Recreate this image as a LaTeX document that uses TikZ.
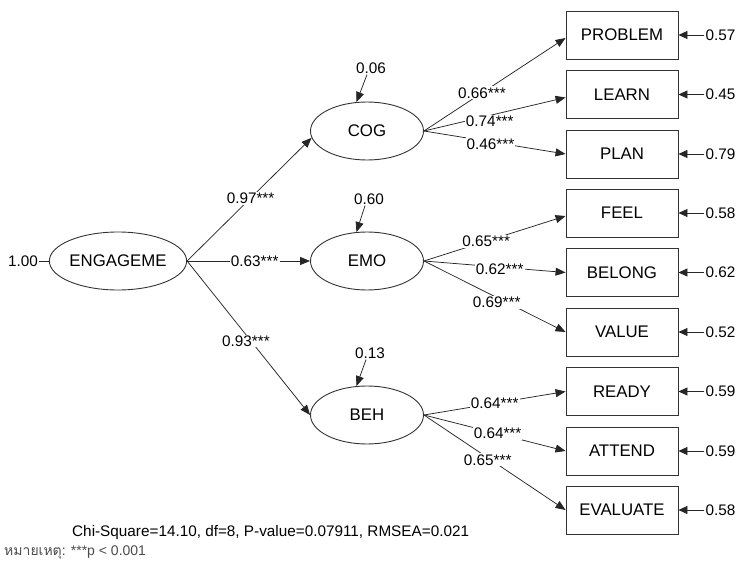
\documentclass[tikz,border=0pt]{standalone}
\usepackage{fontspec}
\setmainfont{Liberation Sans}
\newfontfamily\thaifont[Script=Thai]{Loma}
\usetikzlibrary{arrows.meta,shapes.geometric}
\begin{document}
\begin{tikzpicture}[x=1pt,y=-1pt,
  lat/.style={draw=black!80, line width=0.9pt, ellipse, minimum width=113pt, minimum height=58pt, inner sep=0pt, font=\fontsize{16.8}{19}\selectfont},
  obs/.style={draw=black!80, line width=0.9pt, rectangle, minimum width=112pt, minimum height=48pt, inner sep=0pt, font=\fontsize{16.8}{19}\selectfont},
  num/.style={font=\fontsize{15.3}{18}\selectfont, inner sep=1pt},
  coef/.style={num, fill=white},
  arr/.style={-{Triangle[length=10pt,width=8pt]}, line width=0.75pt, draw=black!85},
  earr/.style={-{Triangle[length=9pt,width=8pt]}, line width=0.75pt, draw=black!85},
  pln/.style={line width=0.75pt, draw=black!85},
  ]
\useasboundingbox (0,0) rectangle (737,567);

% latent variables
\node[lat] (eng) at (118,261) {ENGAGEME};
\node[lat] (cog) at (367,131) {COG};
\node[lat] (emo) at (367,261) {EMO};
\node[lat] (beh) at (367,415) {BEH};

% observed variables
\node[obs] (prob) at (622,35) {PROBLEM};
\node[obs] (learn) at (622,94.5) {LEARN};
\node[obs] (plan) at (622,154) {PLAN};
\node[obs] (feel) at (622,213) {FEEL};
\node[obs] (belong) at (622,272.5) {BELONG};
\node[obs] (value) at (622,332) {VALUE};
\node[obs] (ready) at (622,391.5) {READY};
\node[obs] (attend) at (622,451) {ATTEND};
\node[obs] (evalu) at (622,510) {EVALUATE};

% variance of ENGAGEME
\node[num] (e0) at (23,261) {1.00};
\draw[pln] (e0.east) -- (eng.west);

% residuals of latents
\node[num] (rc) at (371,68) {0.06};
\node[num] (re) at (369,199) {0.60};
\node[num] (rb) at (370,353) {0.13};
\draw[arr] ([xshift=-4pt]rc.south) -- (cog.110);
\draw[arr] ([xshift=-4pt]re.south) -- (emo.110);
\draw[arr] ([xshift=-4pt]rb.south) -- (beh.110);

% second-order paths
\draw[arr] (eng.east) -- node[coef, pos=0.51] {0.97***} (cog.187);
\draw[arr] (eng.east) -- node[coef, pos=0.55] {0.63***} (emo.west);
\draw[arr] (eng.east) -- node[coef, pos=0.52, xshift=-5pt] {0.93***} (beh.west);

% first-order loadings
\draw[arr] (cog.east) -- node[coef, pos=0.41] {0.66***} ([yshift=-3pt]prob.west);
\draw[arr] (cog.east) -- node[coef, pos=0.465, yshift=-6pt] {0.74***} ([yshift=-3pt]learn.west);
\draw[arr] (cog.east) -- node[coef, pos=0.47, yshift=-2pt] {0.46***} (plan.west);

\draw[arr] (emo.east) -- node[coef, pos=0.44] {0.65***} ([yshift=-3pt]feel.west);
\draw[arr] (emo.east) -- node[coef, pos=0.535, yshift=-2pt] {0.62***} (belong.west);
\draw[arr] (emo.east) -- node[coef, pos=0.514, yshift=-5pt] {0.69***} (value.west);

\draw[arr] (beh.east) -- node[coef, pos=0.5] {0.64***} (ready.west);
\draw[arr] (beh.east) -- node[coef, pos=0.52] {0.64***} (attend.west);
\draw[arr] (beh.east) -- node[coef, pos=0.45, yshift=-2pt] {0.65***} (evalu.west);

% error variances of indicators
\foreach \n/\v in {prob/0.57, learn/0.45, plan/0.79, feel/0.58, belong/0.62, value/0.52, ready/0.59, attend/0.59, evalu/0.58}{
  \node[num, anchor=west] (err-\n) at ([xshift=26pt]\n.east) {\v};
  \draw[earr] (err-\n.west) -- (\n.east);
}

% fit statistics and note
\node[num, anchor=west] (fit) at (71,533) {Chi-Square=14.10, df=8, P-value=0.07911, RMSEA=0.021};
\node[anchor=west, inner sep=0pt, text=black!70, font=\fontsize{14}{16}\selectfont] (note) at (4,552) {{\thaifont หมายเหตุ}: ***p < 0.001};
\end{tikzpicture}
\end{document}
